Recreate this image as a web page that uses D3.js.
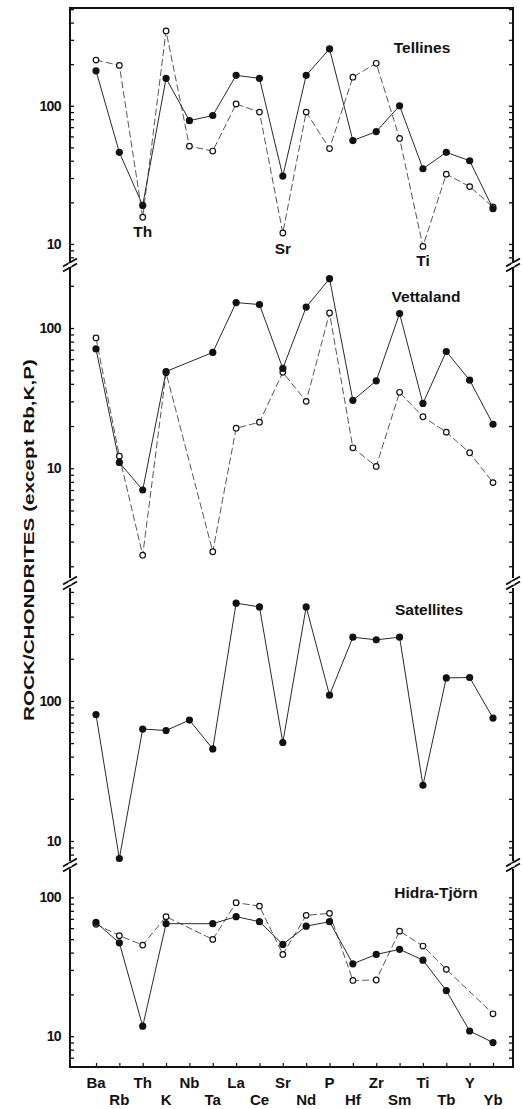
<!DOCTYPE html>
<html>
<head>
<meta charset="utf-8">
<script src="https://cdnjs.cloudflare.com/ajax/libs/d3/7.8.5/d3.min.js"></script>
<style>
  html, body { margin: 0; padding: 0; background: #fff; }
  svg { display: block; font-family: "Liberation Sans", Arial, Helvetica, sans-serif; }
</style>
</head>
<body>
<div id="chart"></div>
<script>
// ---------- data ----------
const categories = ["Ba","Rb","Th","K","Nb","Ta","La","Ce","Sr","Nd","P","Hf","Zr","Sm","Ti","Tb","Y","Yb"];
const panelNames = ["Tellines", "Vettaland", "Satellites", "Hidra-Tjörn"];
const panelDomains = [[7.4, 510], [1.65, 268], [7.2, 640], [6, 160]];
const tickLabels = ["10", "100"];

const tellinesFilled   = [179, 46, 19, 158, 78, 85, 166, 158, 31, 166, 258, 56, 65, 100, 35, 46, 40, 18];
const tellinesOpen     = [214, 196, 15.6, 348, 51, 47, 103, 90, 12, 90, 49, 161, 203, 58, 9.6, 32, 26, 18.5];
const vettalandFilled  = [71, 11, 7, 49, null, 67, 152, 147, 51.5, 141, 225, 30.5, 42, 127, 29, 68, 42.5, 20.6];
const vettalandOpen    = [85, 12.2, 2.4, 48, null, 2.54, 19.3, 21.3, 48.3, 30, 128, 14, 10.3, 34.8, 23.3, 18.1, 12.9, 7.9];
const satellitesFilled = [80, 7.5, 63, 61.5, 73, 45.4, 499, 469, 50.5, 469, 110, 285, 273, 285, 25, 146, 147, 75.5];
const hidraFilled      = [66, 47, 11.8, 64.6, null, 64.6, 72.6, 66.8, 45.8, 62, 66.8, 33.2, 38.8, 42.2, 35.3, 21.3, 10.9, 9.0];
const hidraOpen        = [64, 53, 45.3, 72.6, null, 49.8, 91.5, 86.5, 38.8, 74.2, 76.7, 25.2, 25.4, 57.1, 44.6, 30.3, null, 14.5];

const panelSeries = [
  { filled: tellinesFilled, open: tellinesOpen },
  { filled: vettalandFilled, open: vettalandOpen },
  { filled: satellitesFilled, open: null },
  { filled: hidraFilled, open: hidraOpen }
];
const annotations = [ // Tellines anomaly labels
  { text: "Th", cat: "Th", value: 12.3 },
  { text: "Sr", cat: "Sr", value: 9.3 },
  { text: "Ti", cat: "Ti", value: 7.6 }
];

// ---------- layout ----------
const W = 523, H = 1109;
const xLeft = 70, xRight = 513;
const panelPx = [[262, 8], [578, 268], [861, 588], [1067, 869]]; // [bottom, top]

const svg = d3.select("#chart").append("svg")
  .attr("width", W).attr("height", H);

const x = d3.scalePoint().domain(categories).range([96, 493]);

const axisColor = "#111";

panelSeries.forEach((ps, i) => {
  const [b, t] = panelPx[i];
  const y = d3.scaleLog().domain(panelDomains[i]).range([b, t]);
  const g = svg.append("g");

  g.append("line").attr("x1", xLeft).attr("x2", xLeft).attr("y1", t).attr("y2", b)
    .attr("stroke", axisColor).attr("stroke-width", 2);
  g.append("line").attr("x1", xRight).attr("x2", xRight).attr("y1", t).attr("y2", b)
    .attr("stroke", axisColor).attr("stroke-width", 2);

  const tickVals = y.ticks(20).filter(v => {
    const py = y(v); return py <= b - 1 && py >= t + 1;
  });
  const leftAxis = d3.axisRight(y).tickValues(tickVals).tickSize(4).tickFormat("");
  const la = g.append("g").attr("transform", `translate(${xLeft},0)`).call(leftAxis);
  la.select(".domain").remove();
  la.selectAll("line").attr("stroke", axisColor).attr("stroke-width", 1.3);
  const rightAxis = d3.axisLeft(y).tickValues(tickVals).tickSize(4).tickFormat("");
  const ra = g.append("g").attr("transform", `translate(${xRight},0)`).call(rightAxis);
  ra.select(".domain").remove();
  ra.selectAll("line").attr("stroke", axisColor).attr("stroke-width", 1.3);

  tickLabels.forEach(lbl => {
    const v = +lbl;
    if (v < panelDomains[i][0] || v > panelDomains[i][1]) return;
    g.append("text").attr("x", 61).attr("y", y(v)).attr("dy", "0.36em")
      .attr("text-anchor", "end").attr("font-size", 14).attr("font-weight", "bold")
      .attr("letter-spacing", -0.6).attr("fill", "#111").text(lbl);
  });

  const makeLine = d3.line().x(d => x(d.cat)).y(d => y(d.v));
  const toPts = arr => arr.map((v, k) => ({ cat: categories[k], v })).filter(d => d.v != null);

  if (ps.open) {
    const pts = toPts(ps.open);
    g.append("path").datum(pts).attr("d", makeLine)
      .attr("fill", "none").attr("stroke", "#444").attr("stroke-width", 0.9)
      .attr("stroke-dasharray", "7,3");
  }
  const fpts = toPts(ps.filled);
  g.append("path").datum(fpts).attr("d", makeLine)
    .attr("fill", "none").attr("stroke", "#2a2a2a").attr("stroke-width", 1);

  if (ps.open) {
    g.selectAll("circle.open").data(toPts(ps.open)).enter().append("circle")
      .attr("class", "open").attr("cx", d => x(d.cat)).attr("cy", d => y(d.v))
      .attr("r", 2.8).attr("fill", "#fff").attr("stroke", "#111").attr("stroke-width", 1.2);
  }
  g.selectAll("circle.filled").data(fpts).enter().append("circle")
    .attr("class", "filled").attr("cx", d => x(d.cat)).attr("cy", d => y(d.v))
    .attr("r", 3.6).attr("fill", "#111");

  g.append("text")
    .attr("x", [422, 426, 429, 436][i]).attr("y", [47, 296, 609, 892][i]).attr("dy", "0.36em")
    .attr("text-anchor", "middle").attr("font-size", 15.5).attr("font-weight", "bold")
    .attr("fill", "#111")
    .text(panelNames[i]);

  if (i === 0) {
    annotations.forEach(a => {
      g.append("text").attr("x", x(a.cat)).attr("y", y(a.value)).attr("dy", "0.36em")
        .attr("text-anchor", "middle").attr("font-size", 15.5).attr("font-weight", "bold")
        .attr("fill", "#111").text(a.text);
    });
  }
});

function breakMark(cx, cy) {
  [-2.5, 2.5].forEach(off => {
    svg.append("line")
      .attr("x1", cx - 7).attr("y1", cy + off + 4)
      .attr("x2", cx + 7).attr("y2", cy + off - 4)
      .attr("stroke", axisColor).attr("stroke-width", 2);
  });
  svg.append("rect").attr("x", cx - 1.5).attr("y", cy - 1.5).attr("width", 3).attr("height", 3).attr("fill", "#fff");
}
for (let i = 0; i < panelPx.length - 1; i++) {
  const cy = (panelPx[i][0] + panelPx[i + 1][1]) / 2;
  breakMark(xLeft, cy);
  breakMark(xRight, cy);
}

svg.append("line").attr("x1", xLeft - 1).attr("x2", xRight + 1).attr("y1", panelPx[0][1]).attr("y2", panelPx[0][1])
  .attr("stroke", axisColor).attr("stroke-width", 2);
svg.append("line").attr("x1", xLeft - 1).attr("x2", xRight + 1).attr("y1", 1067).attr("y2", 1067)
  .attr("stroke", axisColor).attr("stroke-width", 2);

const bottom = d3.axisTop(x).tickSize(4).tickFormat("");
const ba = svg.append("g").attr("transform", "translate(0,1067)").call(bottom);
ba.select(".domain").remove();
ba.selectAll("line").attr("stroke", axisColor).attr("stroke-width", 1.2);

categories.forEach((c, k) => {
  svg.append("text").attr("x", x(c)).attr("y", k % 2 === 0 ? 1083 : 1100).attr("dy", "0.36em")
    .attr("text-anchor", "middle").attr("font-size", 15).attr("font-weight", "bold")
    .attr("fill", "#111").text(c);
});

svg.append("text")
  .attr("transform", "translate(29,540) rotate(-90)")
  .attr("dy", "0.36em")
  .attr("text-anchor", "middle").attr("font-size", 14).attr("font-weight", "bold")
  .attr("fill", "#111")
  .attr("textLength", 362).attr("lengthAdjust", "spacingAndGlyphs")
  .text("ROCK/CHONDRITES (except Rb,K,P)");
</script>
</body>
</html>
